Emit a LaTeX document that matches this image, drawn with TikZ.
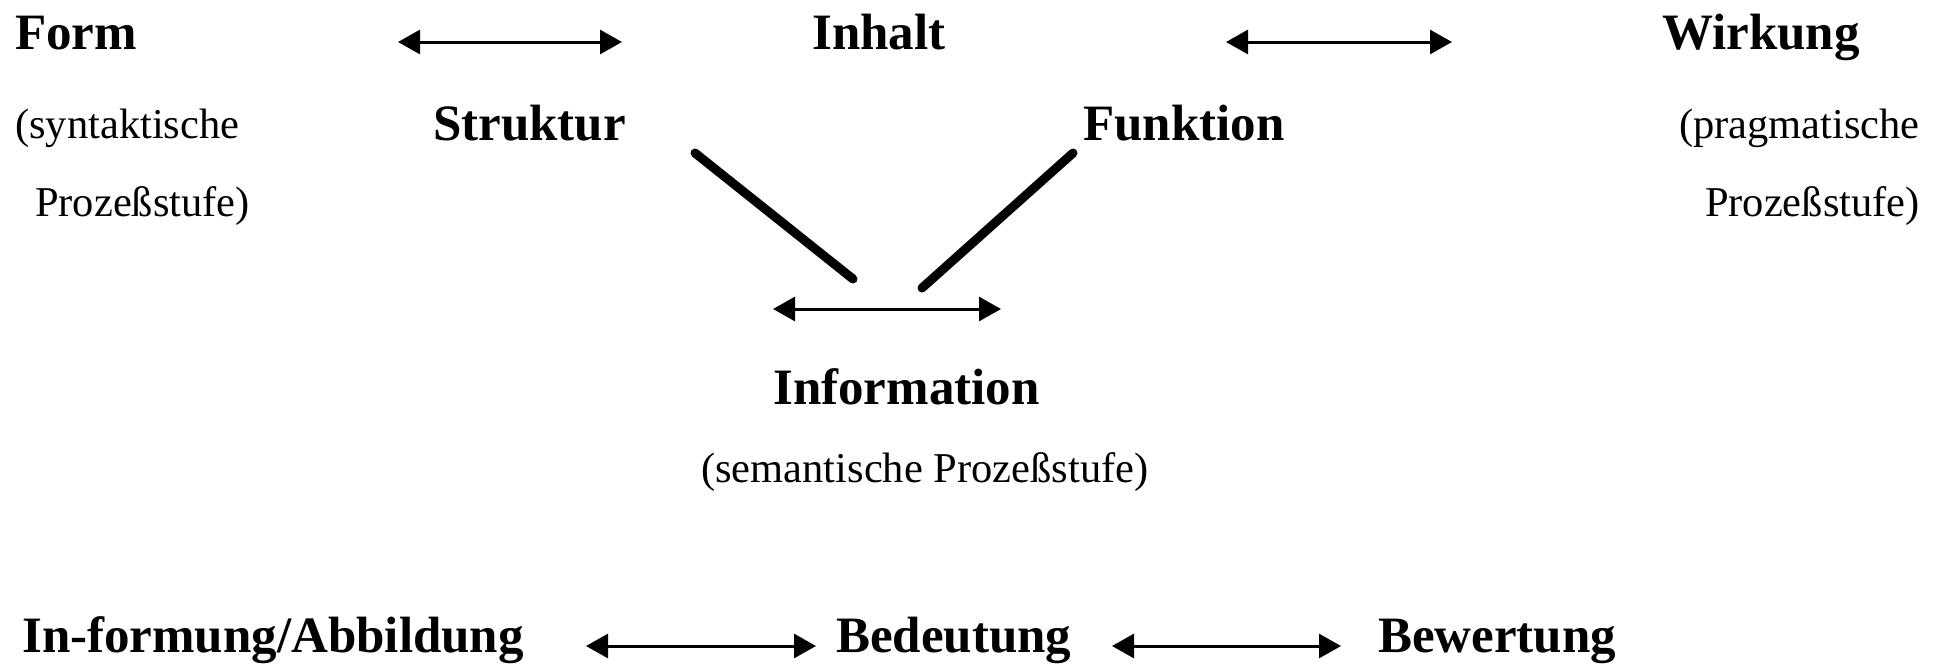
\documentclass[tikz,border=0pt]{standalone}
\usepackage{fontspec}
\setmainfont{Liberation Serif}
\usetikzlibrary{arrows.meta}
\begin{document}
\begin{tikzpicture}[x=1pt,y=-1pt,
  bold/.style={font=\fontsize{51}{60}\selectfont\bfseries, inner sep=0pt, anchor=base west},
  reg/.style={font=\fontsize{42.5}{50}\selectfont, inner sep=0pt, anchor=base west},
  dbl/.style={{Triangle[length=22pt,width=24pt]}-{Triangle[length=22pt,width=24pt]}, line width=3pt},
  thick line/.style={line width=9pt, line cap=round}]
\useasboundingbox (0,0) rectangle (1938,665);
% top row
\node[bold] (form) at (15,49) {Form};
\node[bold] (inhalt) at (812,49) {Inhalt};
\node[bold] (wirkung) at (1662,49) {Wirkung};
\coordinate (a1l) at (398,42); \coordinate (a1r) at (622,42);
\coordinate (a2l) at (1226,42); \coordinate (a2r) at (1452,42);
\draw[dbl] (a1l) -- (a1r);
\draw[dbl] (a2l) -- (a2r);
% second row
\node[reg] (synt) at (15,138) {(syntaktische};
\node[reg] (synt2) at (35,216) {Prozeßstufe)};
\node[bold] (struktur) at (433,140) {Struktur};
\node[bold] (funktion) at (1083,140) {Funktion};
\node[reg, anchor=base east] (prag) at (1920,138) {(pragmatische};
\node[reg, anchor=base east] (prag2) at (1920,216) {Prozeßstufe)};
% V lines
\coordinate (l1a) at (695,153); \coordinate (l1b) at (853,279);
\coordinate (l2a) at (1073,153); \coordinate (l2b) at (922,288);
\draw[thick line] (l1a) -- (l1b);
\draw[thick line] (l2a) -- (l2b);
% information
\coordinate (a3l) at (773,309); \coordinate (a3r) at (1001,309);
\draw[dbl] (a3l) -- (a3r);
\node[bold] (info) at (773,404) {Information};
\node[reg] (sem) at (701,482) {(semantische Prozeßstufe)};
% bottom row
\node[bold] (inform) at (22,652) {In-formung/Abbildung};
\node[bold] (bedeutung) at (836,652) {Bedeutung};
\node[bold] (bewertung) at (1378,652) {Bewertung};
\coordinate (a4l) at (586,646); \coordinate (a4r) at (816,646);
\coordinate (a5l) at (1112,646); \coordinate (a5r) at (1341,646);
\draw[dbl] (a4l) -- (a4r);
\draw[dbl] (a5l) -- (a5r);
\end{tikzpicture}
\end{document}
